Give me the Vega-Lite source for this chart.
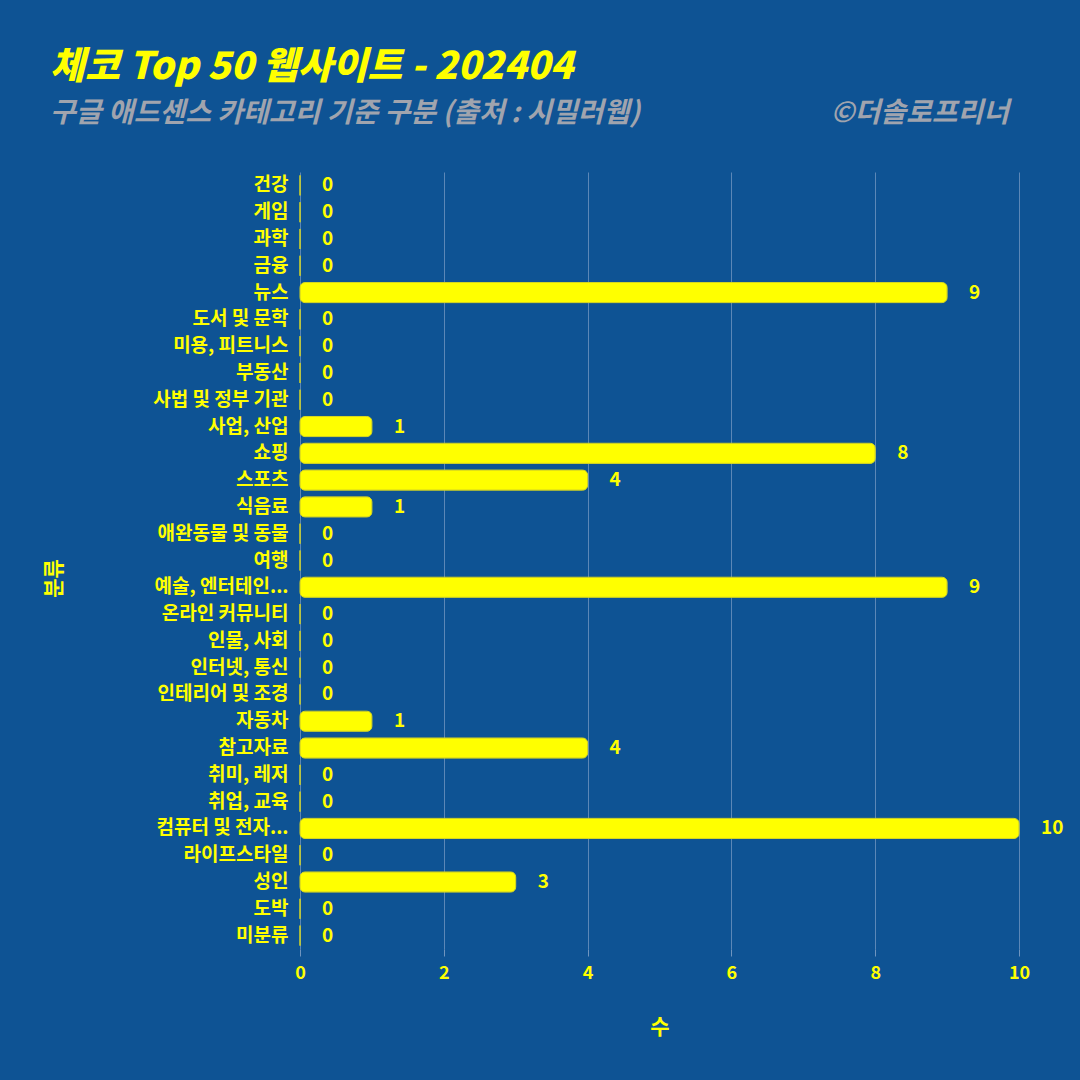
{
  "$schema": "https://vega.github.io/schema/vega-lite/v6.json",
  "width": 719,
  "height": 777,
  "autosize": {"type": "none"},
  "padding": {"left": 300, "top": 172, "right": 61, "bottom": 131},
  "background": "#0E5394",
  "config": {
    "view": {"stroke": null},
    "font": "Noto Sans CJK KR"
  },
  "title": {
    "text": "체코 Top 50 웹사이트 - 202404",
    "subtitle": "구글 애드센스 카테고리 기준 구분 (출처 : 시밀러웹)\u00a0\u00a0\u00a0\u00a0\u00a0\u00a0\u00a0\u00a0\u00a0\u00a0\u00a0\u00a0\u00a0\u00a0\u00a0\u00a0\u00a0\u00a0\u00a0\u00a0\u00a0\u00a0\u00a0\u00a0\u00a0\u00a0\u00a0\u00a0\u00a0\u00a0©더솔로프리너",
    "anchor": "start",
    "frame": "group",
    "dx": -250,
    "offset": 44,
    "color": "#FFFF00",
    "fontSize": 38,
    "fontWeight": 900,
    "fontStyle": "italic",
    "subtitleColor": "#A0A4AE",
    "subtitleFontSize": 28,
    "subtitleFontWeight": "bold",
    "subtitleFontStyle": "italic",
    "subtitlePadding": 13
  },
  "data": {
    "values": [
      {"분류": "건강", "수": 0},
      {"분류": "게임", "수": 0},
      {"분류": "과학", "수": 0},
      {"분류": "금융", "수": 0},
      {"분류": "뉴스", "수": 9},
      {"분류": "도서 및 문학", "수": 0},
      {"분류": "미용, 피트니스", "수": 0},
      {"분류": "부동산", "수": 0},
      {"분류": "사법 및 정부 기관", "수": 0},
      {"분류": "사업, 산업", "수": 1},
      {"분류": "쇼핑", "수": 8},
      {"분류": "스포츠", "수": 4},
      {"분류": "식음료", "수": 1},
      {"분류": "애완동물 및 동물", "수": 0},
      {"분류": "여행", "수": 0},
      {"분류": "예술, 엔터테인먼트", "수": 9},
      {"분류": "온라인 커뮤니티", "수": 0},
      {"분류": "인물, 사회", "수": 0},
      {"분류": "인터넷, 통신", "수": 0},
      {"분류": "인테리어 및 조경", "수": 0},
      {"분류": "자동차", "수": 1},
      {"분류": "참고자료", "수": 4},
      {"분류": "취미, 레저", "수": 0},
      {"분류": "취업, 교육", "수": 0},
      {"분류": "컴퓨터 및 전자제품", "수": 10},
      {"분류": "라이프스타일", "수": 0},
      {"분류": "성인", "수": 3},
      {"분류": "도박", "수": 0},
      {"분류": "미분류", "수": 0}
    ]
  },
  "encoding": {
    "y": {
      "field": "분류",
      "type": "nominal",
      "sort": null,
      "scale": {"paddingInner": 0.25, "paddingOuter": 0.125},
      "axis": {
        "title": "분류",
        "titleColor": "#FFFF00",
        "titleFontSize": 21,
        "titleFontWeight": "bold",
        "titleX": -236,
        "titleY": 406,
        "labelColor": "#FFFF00",
        "labelFontSize": 19,
        "labelFontWeight": "bold",
        "labelPadding": 12,
        "labelLimit": 300,
        "labelExpr": "datum.label == '예술, 엔터테인먼트' ? '예술, 엔터테인...' : datum.label == '컴퓨터 및 전자제품' ? '컴퓨터 및 전자...' : datum.label",
        "ticks": false,
        "domain": false,
        "grid": false
      }
    },
    "x": {
      "field": "수",
      "type": "quantitative",
      "scale": {"domain": [0, 10], "nice": false},
      "axis": {
        "title": "수",
        "titleColor": "#FFFF00",
        "titleFontSize": 21,
        "titleFontWeight": "bold",
        "titlePadding": 34,
        "labelColor": "#FFFF00",
        "labelFontSize": 18,
        "labelFontWeight": "bold",
        "labelPadding": 8,
        "labelFlush": false,
        "values": [0, 2, 4, 6, 8, 10],
        "grid": true,
        "gridColor": "#6F95BF",
        "gridOpacity": 0.8,
        "tickColor": "#6F95BF",
        "tickSize": 7,
        "domain": false
      }
    }
  },
  "layer": [
    {
      "mark": {"type": "bar", "color": "#FFFF00", "stroke": "#D8D820", "strokeWidth": 1, "cornerRadius": 5}
    },
    {
      "mark": {"type": "text", "align": "left", "baseline": "middle", "dx": 22, "color": "#FFFF00", "fontSize": 19, "fontWeight": "bold"},
      "encoding": {"text": {"field": "수", "type": "quantitative"}}
    }
  ]
}
